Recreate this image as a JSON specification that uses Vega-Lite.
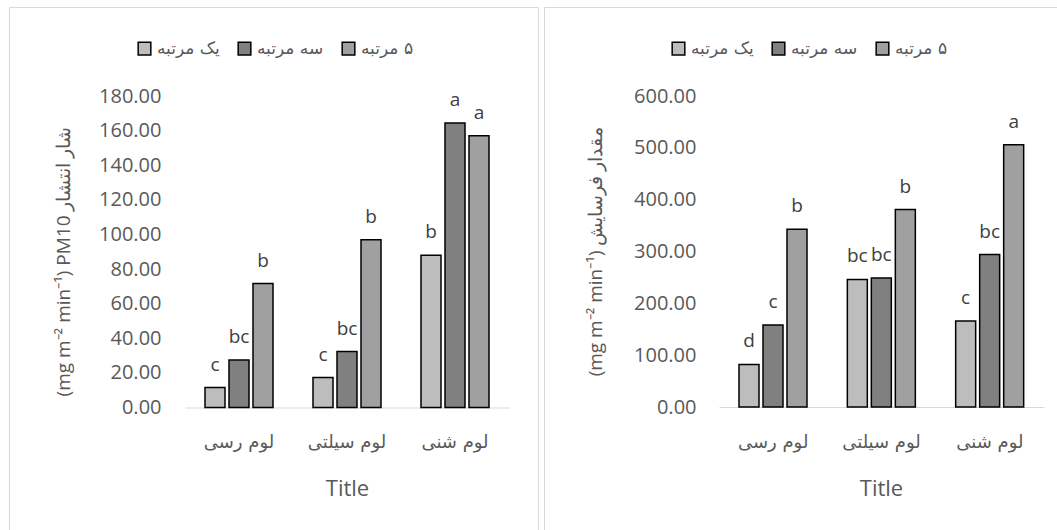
{
  "$schema": "https://vega.github.io/schema/vega-lite/v6.json",
  "padding": {"left": 8, "top": 6, "right": 0, "bottom": 0},
  "autosize": {"type": "pad"},
  "background": "white",
  "config": {
    "view": {"stroke": "#d9d9d9", "strokeWidth": 1},
    "concat": {"spacing": 4},
    "font": "Open Sans",
    "axis": {"labelColor": "#595959", "titleColor": "#595959", "titleFontWeight": "normal", "grid": false, "ticks": false}
  },
  "datasets": {
    "pm10": [
      {"soil": "لوم رسی", "level": "یک مرتبه", "value": 11.5, "letter": "c"},
      {"soil": "لوم رسی", "level": "سه مرتبه", "value": 27.4, "letter": "bc"},
      {"soil": "لوم رسی", "level": "۵ مرتبه", "value": 71.6, "letter": "b"},
      {"soil": "لوم سیلتی", "level": "یک مرتبه", "value": 17.3, "letter": "c"},
      {"soil": "لوم سیلتی", "level": "سه مرتبه", "value": 32.3, "letter": "bc"},
      {"soil": "لوم سیلتی", "level": "۵ مرتبه", "value": 97.0, "letter": "b"},
      {"soil": "لوم شنی", "level": "یک مرتبه", "value": 88.0, "letter": "b"},
      {"soil": "لوم شنی", "level": "سه مرتبه", "value": 164.4, "letter": "a"},
      {"soil": "لوم شنی", "level": "۵ مرتبه", "value": 157.0, "letter": "a"}
    ],
    "erosion": [
      {"soil": "لوم رسی", "level": "یک مرتبه", "value": 82, "letter": "d"},
      {"soil": "لوم رسی", "level": "سه مرتبه", "value": 158, "letter": "c"},
      {"soil": "لوم رسی", "level": "۵ مرتبه", "value": 343, "letter": "b"},
      {"soil": "لوم سیلتی", "level": "یک مرتبه", "value": 246, "letter": "bc"},
      {"soil": "لوم سیلتی", "level": "سه مرتبه", "value": 249, "letter": "bc"},
      {"soil": "لوم سیلتی", "level": "۵ مرتبه", "value": 381, "letter": "b"},
      {"soil": "لوم شنی", "level": "یک مرتبه", "value": 166, "letter": "c"},
      {"soil": "لوم شنی", "level": "سه مرتبه", "value": 294, "letter": "bc"},
      {"soil": "لوم شنی", "level": "۵ مرتبه", "value": 506, "letter": "a"}
    ]
  },
  "resolve": {"scale": {"fill": "independent"}, "legend": {"fill": "independent"}},
  "hconcat": [
    {
      "width": 529,
      "height": 540,
      "data": {"name": "pm10"},
      "encoding": {
        "x": {
          "field": "soil", "type": "nominal",
          "sort": ["لوم رسی", "لوم سیلتی", "لوم شنی"],
          "scale": {"range": [176, 500], "paddingInner": 0, "paddingOuter": 0},
          "axis": {
            "title": "Title", "orient": "bottom", "offset": -139.5,
            "domainColor": "#d9d9d9", "domainWidth": 1, "labelAngle": 0,
            "labelBaseline": "middle", "labelPadding": 35,
            "labelFont": "DejaVu Sans", "labelFontSize": 18,
            "titleFontSize": 22, "titleX": 338, "titleY": 80.5, "titleBaseline": "middle"
          }
        },
        "xOffset": {
          "field": "level", "type": "nominal",
          "sort": ["یک مرتبه", "سه مرتبه", "۵ مرتبه"],
          "scale": {"paddingInner": 0.1667, "paddingOuter": 0.8333}
        },
        "y": {
          "field": "value", "type": "quantitative",
          "scale": {"domain": [0, 180], "range": [400.5, 89], "nice": false},
          "axis": {
            "title": "(mg m⁻² min⁻¹) PM10 شار انتشار",
            "values": [0, 20, 40, 60, 80, 100, 120, 140, 160, 180],
            "format": ".2f", "domain": false, "offset": -176,
            "labelPadding": 24, "labelFontSize": 20,
            "titleFontSize": 19, "titleAngle": -90, "titleX": -122, "titleY": 254,
            "titleBaseline": "middle", "titleAlign": "center"
          }
        }
      },
      "layer": [
        {
          "mark": {"type": "bar", "stroke": "black", "strokeWidth": 1.5},
          "encoding": {
            "fill": {
              "field": "level", "type": "nominal",
              "scale": {"domain": ["یک مرتبه", "سه مرتبه", "۵ مرتبه"], "range": ["#bdbdbd", "#808080", "#a0a0a0"]},
              "legend": {
                "orient": "none", "legendX": 127, "legendY": 33, "direction": "horizontal",
                "title": null, "symbolType": "square", "symbolSize": 160,
                "symbolStrokeColor": "black", "symbolStrokeWidth": 1.5,
                "labelFont": "DejaVu Sans", "labelFontSize": 17, "labelColor": "#595959",
                "labelExpr": "'\u200F' + datum.label",
                "columnPadding": 15, "labelOffset": 4
              }
            }
          }
        },
        {
          "mark": {"type": "text", "baseline": "alphabetic", "dy": -17, "fontSize": 19, "color": "#404040", "font": "Open Sans"},
          "encoding": {"text": {"field": "letter", "type": "nominal"}}
        }
      ]
    },
    {
      "width": 520,
      "height": 540,
      "data": {"name": "erosion"},
      "encoding": {
        "x": {
          "field": "soil", "type": "nominal",
          "sort": ["لوم رسی", "لوم سیلتی", "لوم شنی"],
          "scale": {"range": [175, 500], "paddingInner": 0, "paddingOuter": 0},
          "axis": {
            "title": "Title", "orient": "bottom", "offset": -140,
            "domainColor": "#d9d9d9", "domainWidth": 1, "labelAngle": 0,
            "labelBaseline": "middle", "labelPadding": 35,
            "labelFont": "DejaVu Sans", "labelFontSize": 18,
            "titleFontSize": 22, "titleX": 337, "titleY": 81, "titleBaseline": "middle"
          }
        },
        "xOffset": {
          "field": "level", "type": "nominal",
          "sort": ["یک مرتبه", "سه مرتبه", "۵ مرتبه"],
          "scale": {"paddingInner": 0.1667, "paddingOuter": 0.8333}
        },
        "y": {
          "field": "value", "type": "quantitative",
          "scale": {"domain": [0, 600], "range": [400, 89], "nice": false},
          "axis": {
            "title": "(mg m⁻² min⁻¹) مقدار فرسایش",
            "values": [0, 100, 200, 300, 400, 500, 600],
            "format": ".2f", "domain": false, "offset": -175,
            "labelPadding": 23, "labelFontSize": 20,
            "titleFontSize": 19, "titleAngle": -90, "titleX": -124, "titleY": 244,
            "titleBaseline": "middle", "titleAlign": "center"
          }
        }
      },
      "layer": [
        {
          "mark": {"type": "bar", "stroke": "black", "strokeWidth": 1.5},
          "encoding": {
            "fill": {
              "field": "level", "type": "nominal",
              "scale": {"domain": ["یک مرتبه", "سه مرتبه", "۵ مرتبه"], "range": ["#bdbdbd", "#808080", "#a0a0a0"]},
              "legend": {
                "orient": "none", "legendX": 126, "legendY": 33, "direction": "horizontal",
                "title": null, "symbolType": "square", "symbolSize": 160,
                "symbolStrokeColor": "black", "symbolStrokeWidth": 1.5,
                "labelFont": "DejaVu Sans", "labelFontSize": 17, "labelColor": "#595959",
                "labelExpr": "'\u200F' + datum.label",
                "columnPadding": 15, "labelOffset": 4
              }
            }
          }
        },
        {
          "mark": {"type": "text", "baseline": "alphabetic", "dy": -17, "fontSize": 19, "color": "#404040", "font": "Open Sans"},
          "encoding": {"text": {"field": "letter", "type": "nominal"}}
        }
      ]
    }
  ]
}
